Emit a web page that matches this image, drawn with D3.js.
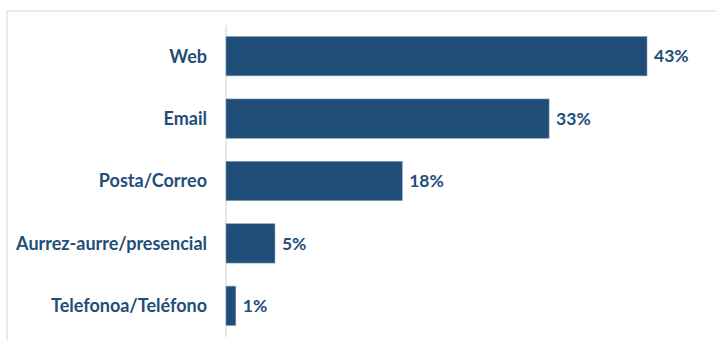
<!DOCTYPE html>
<html>
<head>
<meta charset="utf-8">
<script src="https://cdn.jsdelivr.net/npm/d3@7"></script>
<style>
  html, body { margin: 0; padding: 0; background: #fff; }
  svg { display: block; }
</style>
</head>
<body>
<svg id="chart" width="716" height="340"></svg>
<script>
const categories = ["Web", "Email", "Posta/Correo", "Aurrez-aurre/presencial", "Telefonoa/Teléfono"];
const values = [43, 33, 18, 5, 1];
const valueLabels = ["43%", "33%", "18%", "5%", "1%"];

const W = 716, H = 340;
const svg = d3.select("#chart");
const color = "#1f4e79";

// chart frame
svg.append("rect")
  .attr("x", 7).attr("y", 11)
  .attr("width", 720).attr("height", 340)
  .attr("fill", "none")
  .attr("stroke", "#e3e3e3")
  .attr("stroke-width", 1.5);

const x0 = 226;
const x = d3.scaleLinear().domain([0, 43]).range([x0, 647]);
const y = d3.scaleBand().domain(categories).range([25, 337]).paddingInner(0.37).paddingOuter(0.185);

// axis line
svg.append("line")
  .attr("x1", x0).attr("x2", x0)
  .attr("y1", 25).attr("y2", 337)
  .attr("stroke", "#d0d0d0").attr("stroke-width", 1);

svg.selectAll("rect.bar").data(values).join("rect")
  .attr("class", "bar")
  .attr("x", x(0))
  .attr("y", (d, i) => y(categories[i]))
  .attr("width", d => x(d) - x(0))
  .attr("height", y.bandwidth())
  .attr("fill", color)
  .attr("stroke", "#7f9bb5")
  .attr("stroke-width", 0.6);

svg.selectAll("text.cat").data(categories).join("text")
  .attr("class", "cat")
  .attr("x", 207)
  .attr("y", d => y(d) + y.bandwidth() / 2)
  .attr("dy", "0.35em")
  .attr("text-anchor", "end")
  .attr("font-family", "Lato, 'Open Sans', sans-serif")
  .attr("font-weight", "bold")
  .attr("font-size", 18)
  .attr("fill", color)
  .text(d => d);

svg.selectAll("text.val").data(values).join("text")
  .attr("class", "val")
  .attr("x", d => x(d) + 7)
  .attr("y", (d, i) => y(categories[i]) + y.bandwidth() / 2)
  .attr("dy", "0.35em")
  .attr("text-anchor", "start")
  .attr("font-family", "Lato, 'Open Sans', sans-serif")
  .attr("font-weight", "bold")
  .attr("font-size", 17.5)
  .attr("fill", color)
  .text((d, i) => valueLabels[i]);
</script>
</body>
</html>
